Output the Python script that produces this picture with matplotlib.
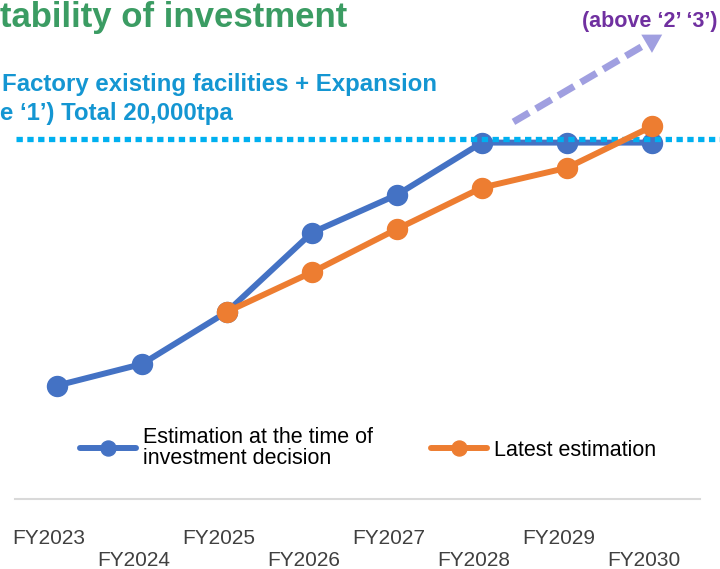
"""Capacity outlook chart: estimation at investment decision vs latest estimation."""

import matplotlib

matplotlib.use("Agg")
import matplotlib.pyplot as plt
from matplotlib.transforms import ScaledTranslation

plt.rcParams["font.family"] = ["Liberation Sans", "DejaVu Sans"]

# --- data (production volume, thousand tpa) ---
FISCAL_YEARS = ["FY2023", "FY2024", "FY2025", "FY2026", "FY2027", "FY2028", "FY2029", "FY2030"]
DECISION_EST = [6.3, 7.5, 10.4, 14.8, 16.9, 19.8, 19.8, 19.8]
LATEST_YEARS = ["FY2025", "FY2026", "FY2027", "FY2028", "FY2029", "FY2030"]
LATEST_EST = [10.4, 12.6, 15.0, 17.3, 18.4, 20.7]
CAPACITY_TOTAL = 20.0
LEGEND_LABELS = ["Estimation at the time of\ninvestment decision", "Latest estimation"]

# upward "future expansion" arrow, data coordinates (category index, thousand tpa)
ARROW_FROM = (5.37, 20.95)
ARROW_TO = (7.12, 25.8)

BLUE = "#4472c4"
ORANGE = "#ed7d31"
CYAN = "#00b0f0"
LILAC = "#a09fe0"
GREEN = "#3b9c63"
TEXT_BLUE = "#1496d2"
PURPLE = "#7030a0"

W, H, DPI = 720, 569, 100


def fx(px):
    return px / W


def fy(py):
    return 1 - py / H


fig = plt.figure(figsize=(W / DPI, H / DPI), dpi=DPI)
base = fy(499)
ax = fig.add_axes([0, base, 1, 1 - base])

blue_line, = ax.plot(FISCAL_YEARS, DECISION_EST, color=BLUE, lw=4.3, marker="o", ms=14.4,
                     solid_capstyle="round", solid_joinstyle="round", zorder=2)
orange_line, = ax.plot(LATEST_YEARS, LATEST_EST, color=ORANGE, lw=4.3, marker="o", ms=14.4,
                       solid_capstyle="round", solid_joinstyle="round", zorder=4)

ax.axhline(CAPACITY_TOTAL, xmin=fx(16), xmax=1, color=CYAN, lw=3.8,
           ls=(0, (1.2, 0.85)), dash_capstyle="butt", zorder=3)
ax.axhline(0, xmin=fx(15), xmax=fx(700), color="#d9d9d9", lw=1.5, clip_on=False)

# dashed shaft + solid head
frac = 0.89
shaft_end = (ARROW_FROM[0] + frac * (ARROW_TO[0] - ARROW_FROM[0]),
             ARROW_FROM[1] + frac * (ARROW_TO[1] - ARROW_FROM[1]))
ax.plot([ARROW_FROM[0], shaft_end[0]], [ARROW_FROM[1], shaft_end[1]], color=LILAC, lw=5,
        ls=(0, (2.6, 1.15)), dash_capstyle="butt", zorder=1)
ax.annotate("", xy=ARROW_TO, xytext=shaft_end,
            arrowprops=dict(arrowstyle="-|>,head_length=0.65,head_width=0.38", mutation_scale=20,
                            color=LILAC, lw=0, shrinkA=0, shrinkB=0))

ax.set_xlim(-57 / 85, 663 / 85)
ax.set_ylim(0, 499 / 18)
for s in ax.spines.values():
    s.set_visible(False)
ax.set_yticks([])
ax.set_xticks(range(len(FISCAL_YEARS)),
              labels=[y if i % 2 == 0 else "\n" + y for i, y in enumerate(FISCAL_YEARS)])
ax.tick_params(axis="x", length=0, pad=21.5, labelsize=15, labelcolor="#404040")
shift = ScaledTranslation(-8 / DPI, 0, fig.dpi_scale_trans)
for lbl in ax.get_xticklabels():
    lbl.set_transform(lbl.get_transform() + shift)
    lbl.set_linespacing(1.2)

fig.text(fx(0), fy(27), "tability of investment", color=GREEN, fontsize=25,
         fontweight="bold", va="baseline")
fig.text(fx(2), fy(91), "Factory existing facilities + Expansion", color=TEXT_BLUE,
         fontsize=17.3, fontweight="bold", va="baseline")
fig.text(fx(0), fy(120), "e \u20181\u2019) Total 20,000tpa", color=TEXT_BLUE,
         fontsize=17.3, fontweight="bold", va="baseline")
fig.text(fx(582), fy(27), "(above \u20182\u2019 \u20183\u2019)", color=PURPLE,
         fontsize=15.5, fontweight="bold", va="baseline")

leg = fig.legend([blue_line, orange_line], LEGEND_LABELS, loc="center left",
                 bbox_to_anchor=(fx(80), fy(448)), ncol=2, frameon=False, fontsize=15.5,
                 handlelength=2.6, handletextpad=0.33, columnspacing=2.7,
                 markerscale=0.75, borderpad=0, borderaxespad=0)
for t in leg.get_texts():
    t.set_linespacing(1.0)

fig.savefig("out.png", dpi=DPI)
plt.close(fig)
